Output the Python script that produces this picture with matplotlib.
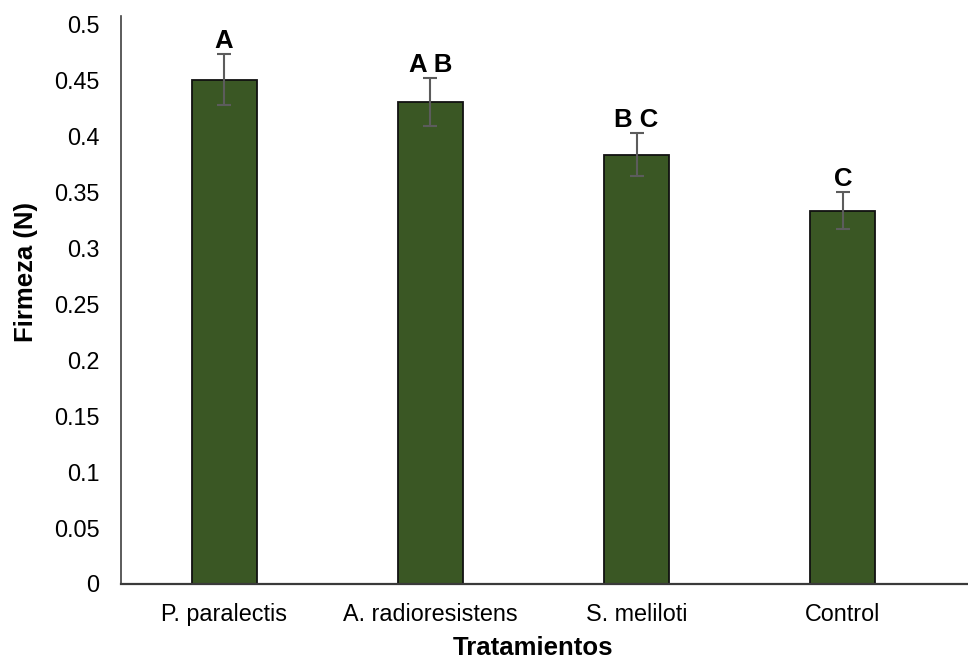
import matplotlib
matplotlib.use("Agg")
import matplotlib.pyplot as plt
from matplotlib.lines import Line2D

plt.rcParams['font.family'] = ['Liberation Sans', 'DejaVu Sans']

# Treatments and mean firmness (N) with standard error
tratamientos = ["P. paralectis", "A. radioresistens", "S. meliloti", "Control"]
firmeza = [0.450, 0.430, 0.383, 0.333]
error = [0.0225, 0.0213, 0.019, 0.0167]
letras = ["A", "A B", "B C", "C"]
yticks = [0, 0.05, 0.1, 0.15, 0.2, 0.25, 0.3, 0.35, 0.4, 0.45, 0.5]
ytick_labels = ["0", "0.05", "0.1", "0.15", "0.2", "0.25", "0.3", "0.35", "0.4", "0.45", "0.5"]

W, H = 968, 659
fig = plt.figure(figsize=(W / 100, H / 100), dpi=100)
ax = fig.add_axes([121 / W, (H - 583.5) / H, (946 - 121) / W, (583.5 - 16) / H])

x = list(range(len(tratamientos)))
ax.bar(x, firmeza, width=0.315, color="#3a5724", edgecolor="#111111",
       linewidth=1.3, zorder=2)
ax.errorbar(x, firmeza, yerr=error, fmt="none", ecolor="#5c5c5c",
            elinewidth=1.5, capsize=5, capthick=1.5, zorder=3)

for xi, v, e, lab in zip(x, firmeza, error, letras):
    ax.annotate(lab, (xi, v + e), xytext=(0, 4.5), textcoords="offset points",
                ha="center", va="baseline", fontsize=18.5, fontweight="bold")

ax.set_xlim(-0.5, len(tratamientos) - 0.5)
ax.set_ylim(0, 0.5068)
ax.set_yticks(yticks)
ax.set_yticklabels(ytick_labels)
ax.set_xticks(x)
ax.set_xticklabels(tratamientos)
ax.tick_params(axis="y", length=0, pad=15.5, labelsize=16.8)
ax.tick_params(axis="x", length=0, pad=14, labelsize=16.8)

for s in ["top", "right"]:
    ax.spines[s].set_visible(False)
ax.spines["left"].set_color("#404040")
ax.spines["left"].set_linewidth(1.2)
ax.spines["bottom"].set_visible(False)
ax.add_line(Line2D([0, (W - 121) / (946 - 121)], [0, 0], transform=ax.transAxes,
                   color="#3a3a3a", linewidth=1.6, clip_on=False, zorder=4))

fig.text(26 / W, 1 - 272 / H, "Firmeza (N)", rotation=90, ha="center", va="center",
         fontsize=18.5, fontweight="bold")
fig.text(533 / W, 1 - 648 / H, "Tratamientos", ha="center", va="center",
         fontsize=18.5, fontweight="bold")

fig.savefig("out.png", dpi=100)
